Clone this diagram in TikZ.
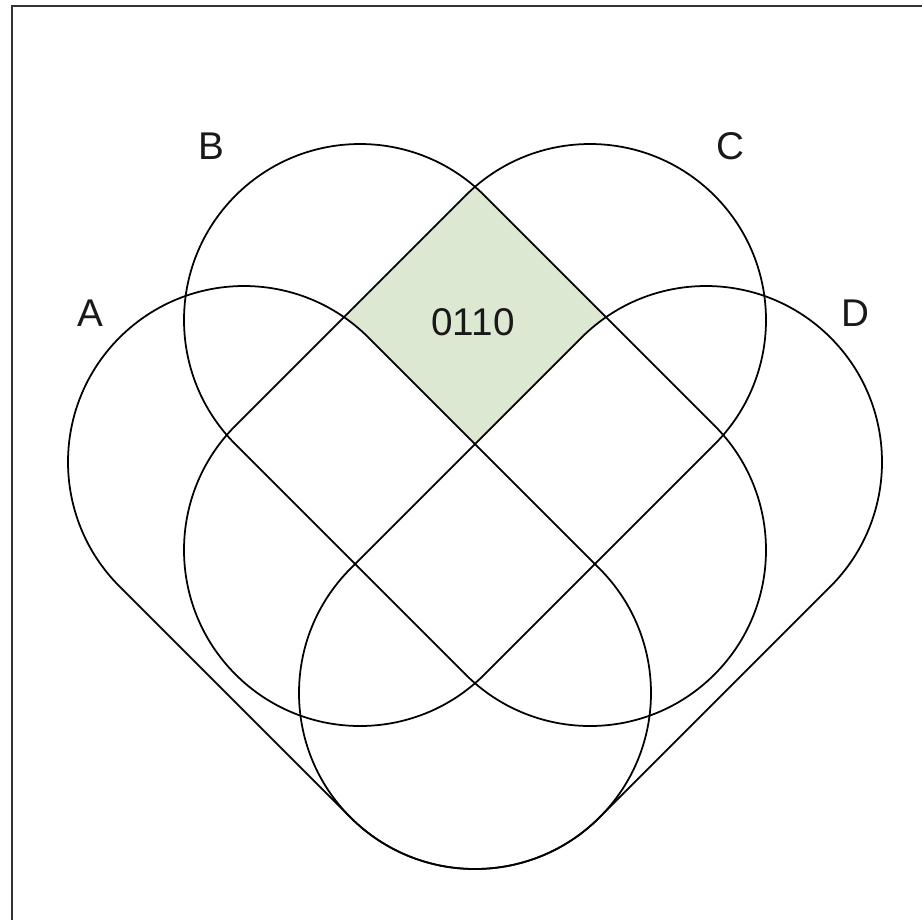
\documentclass[tikz,border=0pt]{standalone}
\usepackage{fontspec}
\setmainfont{Liberation Sans}
\usetikzlibrary{calc}

\definecolor{regiongreen}{RGB}{221,232,211}
\newcommand{\setrad}{176}
% one set = two half circles joined by their tangents
\newcommand{\vennset}[3]{(#1) ++(#3:\setrad) arc[start angle=#3, delta angle=180, radius=\setrad]
  -- ($(#2)+(#3+180:\setrad)$) arc[start angle=#3+180, delta angle=180, radius=\setrad] -- cycle}

\begin{document}
\begin{tikzpicture}[x=0.2mm, y=0.2mm,
    setline/.style={draw=black, line width=1pt},
    frameline/.style={draw=black!80, line width=1.5pt},
    setlabel/.style={inner sep=0pt, text=black!90, font=\fontsize{22}{26}\selectfont}]
  \useasboundingbox (0,0) rectangle (922,-920);
  \draw[frameline] (12,-920) -- (12,-6) -- (922,-6);

  \coordinate (A1) at (244,-462);
  \coordinate (A2) at (475,-693);
  \coordinate (B1) at (360,-320);
  \coordinate (B2) at (590,-550);
  \coordinate (C1) at (590,-320);
  \coordinate (C2) at (360,-550);
  \coordinate (D1) at (706,-462);
  \coordinate (D2) at (475,-693);

  % region 0110: in B and C, not in A or D
  \begin{scope}
    \clip \vennset{B1}{B2}{45};
    \clip \vennset{C1}{C2}{-45};
    \fill[regiongreen] (0,0) rectangle (922,-920);
    \fill[white] \vennset{A1}{A2}{45};
    \fill[white] \vennset{D1}{D2}{-45};
  \end{scope}

  \draw[setline] \vennset{A1}{A2}{45};
  \draw[setline] \vennset{B1}{B2}{45};
  \draw[setline] \vennset{C1}{C2}{-45};
  \draw[setline] \vennset{D1}{D2}{-45};

  \node[setlabel] (labA) at (90,-313) {A};
  \node[setlabel] (labB) at (211,-146) {B};
  \node[setlabel] (labC) at (730,-146) {C};
  \node[setlabel] (labD) at (855,-313) {D};
  \node[setlabel] (lab0110) at (473,-322) {0110};
\end{tikzpicture}
\end{document}
